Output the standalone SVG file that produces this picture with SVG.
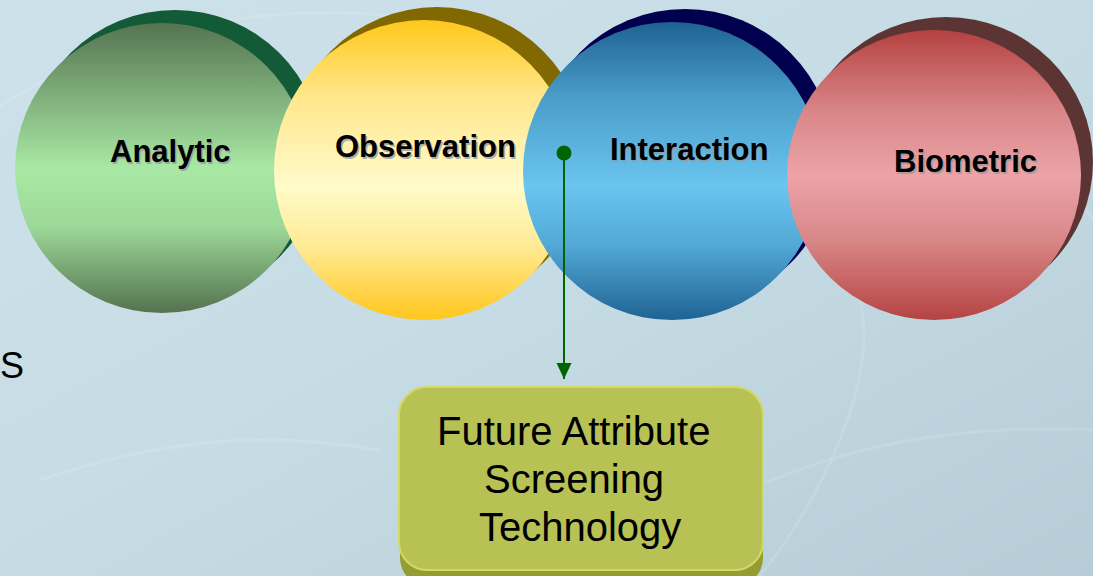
<svg xmlns="http://www.w3.org/2000/svg" width="1093" height="576" viewBox="0 0 1093 576">
  <defs>
    <linearGradient id="bg" x1="0" y1="0" x2="1" y2="1">
      <stop offset="0" stop-color="#cde1ea"/>
      <stop offset="0.5" stop-color="#c6dce5"/>
      <stop offset="1" stop-color="#b7ccd6"/>
    </linearGradient>
    <linearGradient id="gGreen" x1="0" y1="0" x2="0" y2="1">
      <stop offset="0" stop-color="#557451"/>
      <stop offset="0.25" stop-color="#7fae7b"/>
      <stop offset="0.5" stop-color="#a8e8a4"/>
      <stop offset="0.7" stop-color="#9dd999"/>
      <stop offset="1" stop-color="#54724f"/>
    </linearGradient>
    <linearGradient id="gYellow" x1="0" y1="0" x2="0" y2="1">
      <stop offset="0" stop-color="#ffc81a"/>
      <stop offset="0.25" stop-color="#ffe68a"/>
      <stop offset="0.55" stop-color="#fffbca"/>
      <stop offset="0.75" stop-color="#ffeb96"/>
      <stop offset="1" stop-color="#ffc61c"/>
    </linearGradient>
    <linearGradient id="gBlue" x1="0" y1="0" x2="0" y2="1">
      <stop offset="0" stop-color="#1f6292"/>
      <stop offset="0.25" stop-color="#4a9cc9"/>
      <stop offset="0.55" stop-color="#6ac5ef"/>
      <stop offset="0.75" stop-color="#52a8d6"/>
      <stop offset="1" stop-color="#1f6393"/>
    </linearGradient>
    <linearGradient id="gRed" x1="0" y1="0" x2="0" y2="1">
      <stop offset="0" stop-color="#b54141"/>
      <stop offset="0.28" stop-color="#d98688"/>
      <stop offset="0.5" stop-color="#eca3a8"/>
      <stop offset="0.72" stop-color="#d98889"/>
      <stop offset="1" stop-color="#b54343"/>
    </linearGradient>
    <marker id="arrow" viewBox="0 0 16 16" refX="16" refY="8" markerWidth="16" markerHeight="16" markerUnits="userSpaceOnUse" orient="auto">
      <path d="M0,0.5 L16,8 L0,15.5 z" fill="#006400"/>
    </marker>
    <style>
      .label { font-family: "Liberation Sans", Arial, sans-serif; font-weight: bold; font-size: 31px; fill: #000; }
      .label-shadow { font-family: "Liberation Sans", Arial, sans-serif; font-weight: bold; font-size: 31px; fill: #9a9a9a; fill-opacity: 0.8; }
      .box-text { font-family: "Liberation Sans", Arial, sans-serif; font-size: 40px; fill: #000; }
      .side-text { font-family: "Liberation Sans", Arial, sans-serif; font-size: 36px; fill: #000; }
      .swirl { fill: none; stroke: #ffffff; stroke-opacity: 0.12; stroke-width: 3; }
    </style>
  </defs>

  <!-- backdrop -->
  <rect x="0" y="0" width="1093" height="576" fill="url(#bg)"/>
  <path class="swirl" d="M-20,120 C120,20 300,-10 480,30"/>
  <path class="swirl" d="M620,560 C760,470 900,420 1093,430"/>
  <path class="swirl" d="M760,576 C820,500 880,380 860,300" stroke-opacity="0.08"/>
  <path class="swirl" d="M40,480 C160,440 260,430 380,450" stroke-opacity="0.07"/>
  <path class="swirl" d="M900,60 C980,90 1050,150 1093,220" stroke-opacity="0.08"/>

  <!-- side letter -->
  <text class="side-text" x="0" y="378">S</text>

  <!-- Analytic -->
  <g id="node-analytic">
    <ellipse cx="175" cy="155" rx="147" ry="145" fill="#135b37"/>
    <ellipse cx="162" cy="168" rx="147" ry="145" fill="url(#gGreen)"/>
    <text class="label-shadow" x="111.5" y="163.5">Analytic</text>
    <text class="label" x="110" y="162">Analytic</text>
  </g>

  <!-- Observation -->
  <g id="node-observation">
    <circle cx="437" cy="157" r="150" fill="#816800"/>
    <circle cx="424" cy="170" r="150" fill="url(#gYellow)"/>
    <text class="label-shadow" x="336.5" y="158.5">Observation</text>
    <text class="label" x="335" y="157">Observation</text>
  </g>

  <!-- Interaction -->
  <g id="node-interaction">
    <circle cx="685" cy="158" r="149" fill="#00004e"/>
    <circle cx="672" cy="171" r="149" fill="url(#gBlue)"/>
    <text class="label-shadow" x="611.5" y="161.5">Interaction</text>
    <text class="label" x="610" y="160">Interaction</text>
  </g>

  <!-- Biometric -->
  <g id="node-biometric">
    <ellipse cx="946" cy="162" rx="147" ry="145" fill="#5d3434"/>
    <ellipse cx="934" cy="175" rx="147" ry="145" fill="url(#gRed)"/>
    <text class="label-shadow" x="895.5" y="173.5">Biometric</text>
    <text class="label" x="894" y="172">Biometric</text>
  </g>

  <!-- Future Attribute Screening Technology -->
  <g id="node-fast">
    <rect x="400" y="396" width="363" height="190" rx="28" ry="28" fill="#959c34"/>
    <rect x="399" y="387" width="364" height="183" rx="28" ry="28" fill="#b8c154" stroke="#d3d965" stroke-width="2"/>
    <text class="box-text" x="437" y="445">Future Attribute</text>
    <text class="box-text" x="484" y="493">Screening</text>
    <text class="box-text" x="479" y="541">Technology</text>
  </g>

  <!-- connectors -->
  <g id="connectors">
    <circle cx="564" cy="153" r="7.5" fill="#006400"/>
    <line x1="564" y1="153" x2="564" y2="379" stroke="#006400" stroke-width="2" marker-end="url(#arrow)"/>
  </g>
</svg>
